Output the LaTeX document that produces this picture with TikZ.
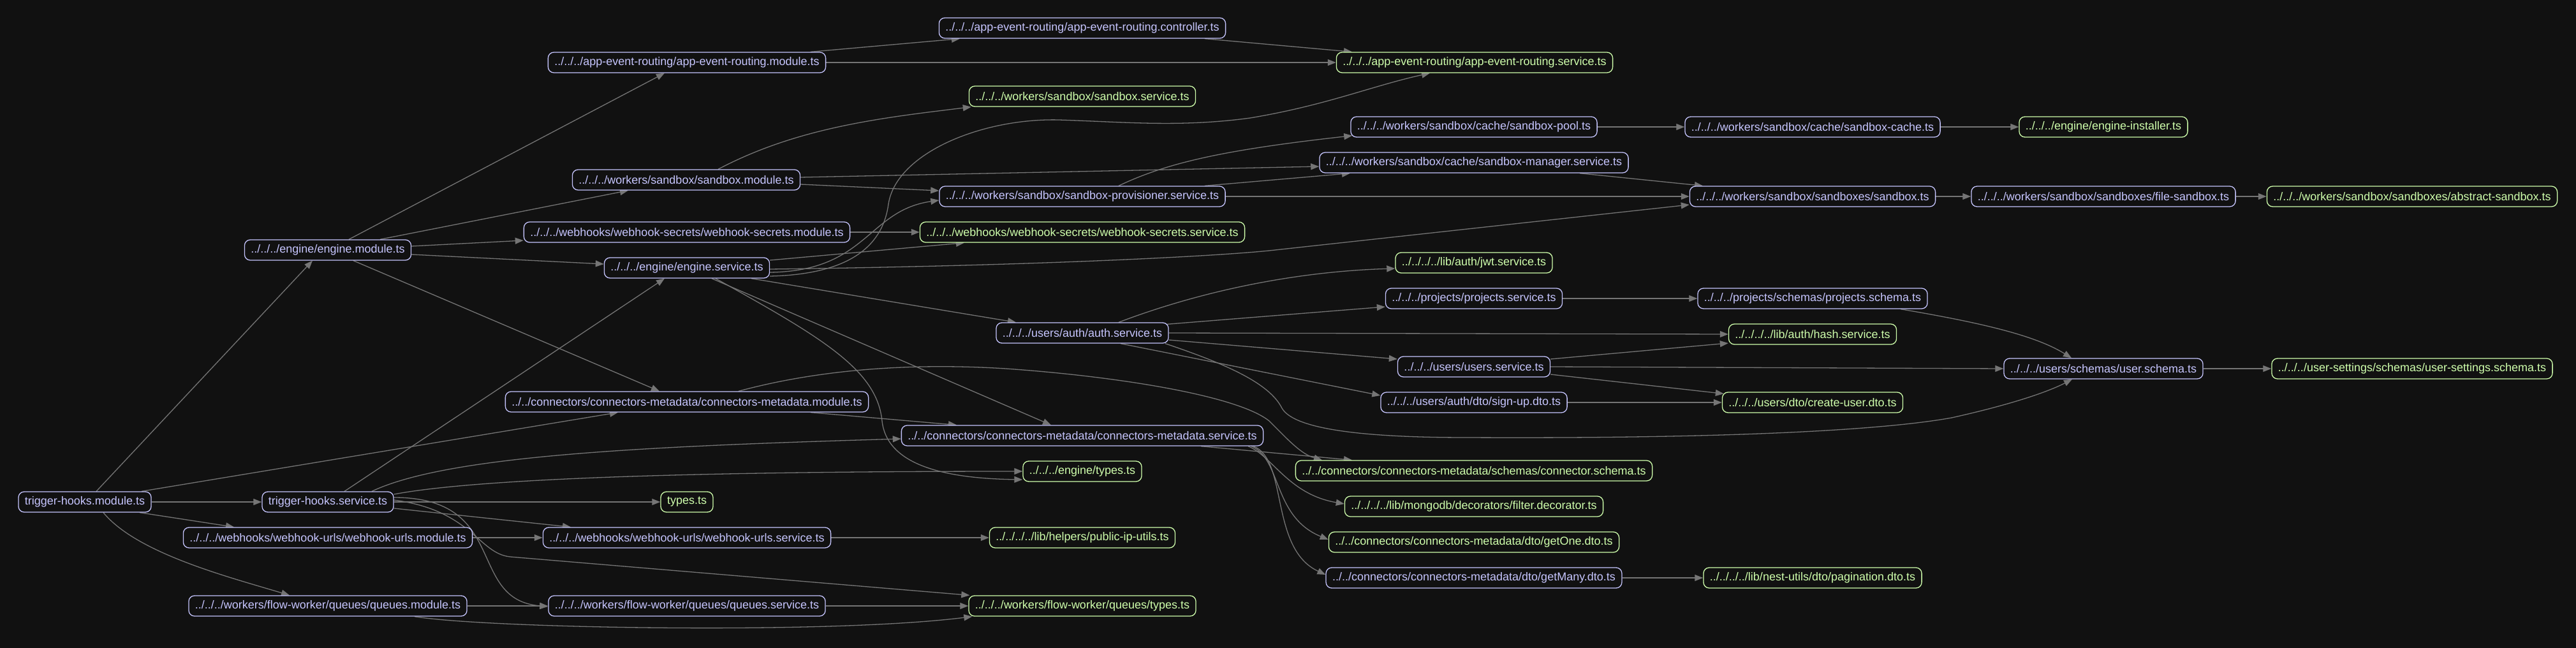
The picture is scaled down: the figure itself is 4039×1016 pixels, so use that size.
\documentclass[tikz,border=0pt]{standalone}
\usepackage{fontspec}
\setmainfont{Liberation Sans}
\usetikzlibrary{arrows.meta}
\definecolor{bgc}{HTML}{111111}
\definecolor{pur}{HTML}{C6C5FE}
\definecolor{grn}{HTML}{CFFFAC}
\definecolor{edgec}{HTML}{757575}
\pgfdeclarelayer{bg}
\pgfdeclarelayer{edgelayer}
\pgfsetlayers{bg,edgelayer,main}
\tikzset{
  mod/.style={draw=pur, text=pur, fill=bgc, rounded corners=9pt, line width=1.3pt,
    inner xsep=10pt, inner ysep=0pt, minimum height=32pt, font=\fontsize{18pt}{20pt}\selectfont},
  leaf/.style={mod, draw=grn, text=grn},
  dep/.style={draw=edgec, line width=1.3pt, -{Triangle[length=13pt,width=10pt]}}
}
\begin{document}
\begin{tikzpicture}[x=1pt,y=-1pt]
\begin{pgfonlayer}{bg}
\fill[bgc] (0,0) rectangle (4039,1016);
\end{pgfonlayer}
\useasboundingbox (0,0) rectangle (4039,1016);

% column 1
\node[mod] (thm) at (133,787) {trigger-hooks.module.ts};
% column 2
\node[mod] (ths) at (514,787) {trigger-hooks.service.ts};
\node[mod] (wum) at (514,843) {../../../webhooks/webhook-urls/webhook-urls.module.ts};
\node[mod] (qm) at (514,950) {../../../workers/flow-worker/queues/queues.module.ts};
\node[mod] (em) at (514,392) {../../../engine/engine.module.ts};
% column 3
\node[mod] (aerm) at (1077,98) {../../../app-event-routing/app-event-routing.module.ts};
\node[mod] (sbm) at (1076,282) {../../../workers/sandbox/sandbox.module.ts};
\node[mod] (wsm) at (1077,364) {../../../webhooks/webhook-secrets/webhook-secrets.module.ts};
\node[mod] (es) at (1077,420) {../../../engine/engine.service.ts};
\node[mod] (cmm) at (1077,630) {../../connectors/connectors-metadata/connectors-metadata.module.ts};
\node[leaf] (typ) at (1077,787) {types.ts};
\node[mod] (wus) at (1077,843) {../../../webhooks/webhook-urls/webhook-urls.service.ts};
\node[mod] (qs) at (1077,950) {../../../workers/flow-worker/queues/queues.service.ts};
% column 4
\node[mod] (ctrl) at (1697,44) {../../../app-event-routing/app-event-routing.controller.ts};
\node[leaf] (sbs) at (1697,151) {../../../workers/sandbox/sandbox.service.ts};
\node[mod] (prov) at (1697,308) {../../../workers/sandbox/sandbox-provisioner.service.ts};
\node[leaf] (wss) at (1697,364) {../../../webhooks/webhook-secrets/webhook-secrets.service.ts};
\node[mod] (auth) at (1697,522) {../../../users/auth/auth.service.ts};
\node[mod] (cms) at (1697,683) {../../connectors/connectors-metadata/connectors-metadata.service.ts};
\node[leaf] (etyp) at (1697,739) {../../../engine/types.ts};
\node[leaf] (pip) at (1697,843) {../../../../lib/helpers/public-ip-utils.ts};
\node[leaf] (fwt) at (1697,950) {../../../workers/flow-worker/queues/types.ts};
% column 5
\node[leaf] (aers) at (2312,98) {../../../app-event-routing/app-event-routing.service.ts};
\node[mod] (pool) at (2311,199) {../../../workers/sandbox/cache/sandbox-pool.ts};
\node[mod] (mgr) at (2311,255) {../../../workers/sandbox/cache/sandbox-manager.service.ts};
\node[leaf] (jwt) at (2311,412) {../../../../lib/auth/jwt.service.ts};
\node[mod] (proj) at (2311,468) {../../../projects/projects.service.ts};
\node[mod] (users) at (2311,575) {../../../users/users.service.ts};
\node[mod] (signup) at (2311,631) {../../../users/auth/dto/sign-up.dto.ts};
\node[leaf] (csch) at (2311,738) {../../connectors/connectors-metadata/schemas/connector.schema.ts};
\node[leaf] (filt) at (2311,794) {../../../../lib/mongodb/decorators/filter.decorator.ts};
\node[leaf] (getone) at (2311,850) {../../connectors/connectors-metadata/dto/getOne.dto.ts};
\node[mod] (getmany) at (2311,906) {../../connectors/connectors-metadata/dto/getMany.dto.ts};
% column 6
\node[mod] (cache) at (2842,199) {../../../workers/sandbox/cache/sandbox-cache.ts};
\node[mod] (sbx) at (2842,308) {../../../workers/sandbox/sandboxes/sandbox.ts};
\node[mod] (psch) at (2842,468) {../../../projects/schemas/projects.schema.ts};
\node[leaf] (hash) at (2842,524) {../../../../lib/auth/hash.service.ts};
\node[leaf] (cuser) at (2842,631) {../../../users/dto/create-user.dto.ts};
\node[leaf] (pag) at (2842,906) {../../../../lib/nest-utils/dto/pagination.dto.ts};
% column 7
\node[leaf] (inst) at (3298,199) {../../../engine/engine-installer.ts};
\node[mod] (fsbx) at (3298,308) {../../../workers/sandbox/sandboxes/file-sandbox.ts};
\node[mod] (usch) at (3298,578) {../../../users/schemas/user.schema.ts};
% column 8
\node[leaf] (abs) at (3782,308) {../../../workers/sandbox/sandboxes/abstract-sandbox.ts};
\node[leaf] (uset) at (3782,578) {../../../user-settings/schemas/user-settings.schema.ts};

\begin{pgfonlayer}{edgelayer}
% trigger-hooks.module
\draw[dep] ([xshift=18pt]thm.north) -- ([xshift=-24pt]em.south);
\draw[dep] ([xshift=89pt]thm.north) -- ([xshift=-108pt]cmm.south);
\draw[dep] (thm.east) -- (ths.west);
\draw[dep] ([xshift=86pt]thm.south) -- ([xshift=-147pt]wum.north);
\draw[dep] ([xshift=29pt]thm.south) .. controls (215,868) and (360,905) .. ([xshift=-60pt]qm.north);
% trigger-hooks.service
\draw[dep] ([xshift=26pt]ths.north) -- ([xshift=-35pt]es.south);
\draw[dep] ([xshift=69pt]ths.north) .. controls (700,715) and (1000,700) .. ([yshift=-5pt]cms.west);
\draw[dep] ([yshift=12pt]ths.east) .. controls (750,750) and (1100,739) .. (etyp.west);
\draw[dep] (ths.east) -- (typ.west);
\draw[dep] ([yshift=-10pt]ths.east) -- ([xshift=-182pt]wus.north);
\draw[dep] ([yshift=3pt]ths.east) .. controls (740,800) and (750,868) .. (800,873) -- ([xshift=2pt]fwt.north west);
\draw[dep] ([yshift=7pt]ths.east) .. controls (800,780) and (730,940) .. ([yshift=-1pt]qs.west);
\draw[dep] (wum.east) -- (wus.west);
\draw[dep] (qm.east) -- (qs.west);
\draw[dep] ([xshift=136pt]qm.south) .. controls (760,985) and (1300,995) .. ([xshift=6pt]fwt.south west);
\draw[dep] (qs.east) -- (fwt.west);
\draw[dep] (wus.east) -- (pip.west);
% engine.module
\draw[dep] ([xshift=33pt]em.north) -- ([xshift=-35pt]aerm.south);
\draw[dep] ([xshift=82pt]em.north) -- ([xshift=-91pt]sbm.south);
\draw[dep] ([yshift=6pt]em.east) -- ([yshift=-13pt]wsm.west);
\draw[dep] ([yshift=-7pt]em.east) -- ([yshift=6pt]es.west);
\draw[dep] ([xshift=40pt]em.south) -- ([xshift=-43pt]cmm.north);
% app-event-routing
\draw[dep] ([xshift=194pt]aerm.north) -- ([xshift=-192pt]ctrl.south);
\draw[dep] (aerm.east) -- (aers.west);
\draw[dep] ([xshift=192pt]ctrl.south) -- ([xshift=-192pt]aers.north);
% sandbox.module
\draw[dep] ([xshift=50pt]sbm.north) .. controls (1250,200) and (1380,185) .. ([xshift=4pt]sbs.south west);
\draw[dep] ([yshift=4pt]sbm.east) -- ([yshift=-6pt]mgr.west);
\draw[dep] ([yshift=-7pt]sbm.east) -- ([yshift=9pt]prov.west);
\draw[dep] (wsm.east) -- (wss.west);
% engine.service
\draw[dep] ([yshift=12pt]es.east) -- ([xshift=-185pt]wss.south);
\draw[dep] ([yshift=-2pt]es.east) .. controls (1600,417) and (1890,403) .. (1990,393) -- ([yshift=-13pt]sbx.west);
\draw[dep] ([yshift=-7pt]es.east) .. controls (1360,425) and (1360,330) .. ([yshift=-6pt]prov.west);
\draw[dep] ([yshift=-13pt]es.east) .. controls (1340,430) and (1385,380) .. (1393,320)
   .. controls (1405,240) and (1540,185) .. (1660,188)
   .. controls (1760,191) and (1850,200) .. (1960,185)
   .. controls (2080,165) and (2150,135) .. ([xshift=-70pt]aers.south);
\draw[dep] ([xshift=101pt]es.south) -- ([xshift=-104pt]auth.north);
\draw[dep] ([xshift=39pt]es.south) -- ([xshift=-49pt]cms.north);
\draw[dep] ([xshift=45pt]es.south) .. controls (1290,530) and (1375,580) .. (1383,660)
   .. controls (1390,725) and (1470,750) .. ([yshift=-13pt]etyp.west);
% sandbox-provisioner
\draw[dep] ([xshift=57pt]prov.north) .. controls (1830,255) and (1920,235) .. ([xshift=3pt,yshift=3pt]pool.south west);
\draw[dep] ([xshift=192pt]prov.north) -- ([xshift=-194pt]mgr.south);
\draw[dep] (prov.east) -- (sbx.west);
\draw[dep] (pool.east) -- (cache.west);
\draw[dep] (cache.east) -- (inst.west);
\draw[dep] ([xshift=166pt]mgr.south) -- ([xshift=-172pt]sbx.north);
\draw[dep] (sbx.east) -- (fsbx.west);
\draw[dep] (fsbx.east) -- (abs.west);
% connectors-metadata
\draw[dep] ([xshift=194pt]cmm.south) -- ([xshift=-197pt]cms.north);
\draw[dep] ([xshift=81pt]cmm.north) .. controls (1300,575) and (1450,570) .. (1577,578)
   .. controls (1750,590) and (1940,620) .. (1990,660)
   .. controls (2020,690) and (2040,712) .. ([xshift=-238pt]csch.north);
\draw[dep] ([xshift=186pt]cms.south) -- ([xshift=-191pt]csch.north);
\draw[dep] ([xshift=260pt]cms.south) .. controls (1995,715) and (2020,775) .. ([yshift=4pt]filt.west);
\draw[dep] ([xshift=265pt]cms.south) .. controls (2010,720) and (1995,810) .. ([yshift=4pt]getone.west);
\draw[dep] ([xshift=268pt]cms.south) .. controls (2020,720) and (1990,860) .. ([yshift=5pt]getmany.west);
\draw[dep] (getmany.east) -- (pag.west);
% auth.service
\draw[dep] ([xshift=57pt]auth.north) .. controls (1900,450) and (2050,425) .. ([yshift=-9pt]jwt.west);
\draw[dep] ([xshift=-3pt,yshift=-3pt]auth.north east) -- ([yshift=-13pt]proj.west);
\draw[dep] (auth.east) -- (hash.west);
\draw[dep] ([yshift=-11pt]auth.east) -- ([yshift=12pt]users.west);
\draw[dep] ([xshift=60pt]auth.south) -- ([yshift=11pt]signup.west);
\draw[dep] ([xshift=130pt]auth.south) .. controls (1920,570) and (1990,600) .. (2010,640)
   .. controls (2030,675) and (2150,686) .. (2300,686)
   .. controls (2700,688) and (2950,675) .. (3060,655)
   .. controls (3150,635) and (3210,615) .. ([xshift=-49pt]usch.south);
% users
\draw[dep] ([yshift=12pt]users.east) -- ([yshift=-14pt]hash.west);
\draw[dep] (users.east) -- (usch.west);
\draw[dep] ([yshift=-12pt]users.east) -- ([xshift=3pt,yshift=-3pt]cuser.north west);
\draw[dep] (signup.east) -- (cuser.west);
\draw[dep] (proj.east) -- (psch.west);
\draw[dep] ([xshift=138pt]psch.south) .. controls (3100,505) and (3190,525) .. ([xshift=-50pt]usch.north);
\draw[dep] (usch.east) -- (uset.west);
\end{pgfonlayer}
\end{tikzpicture}
\end{document}
